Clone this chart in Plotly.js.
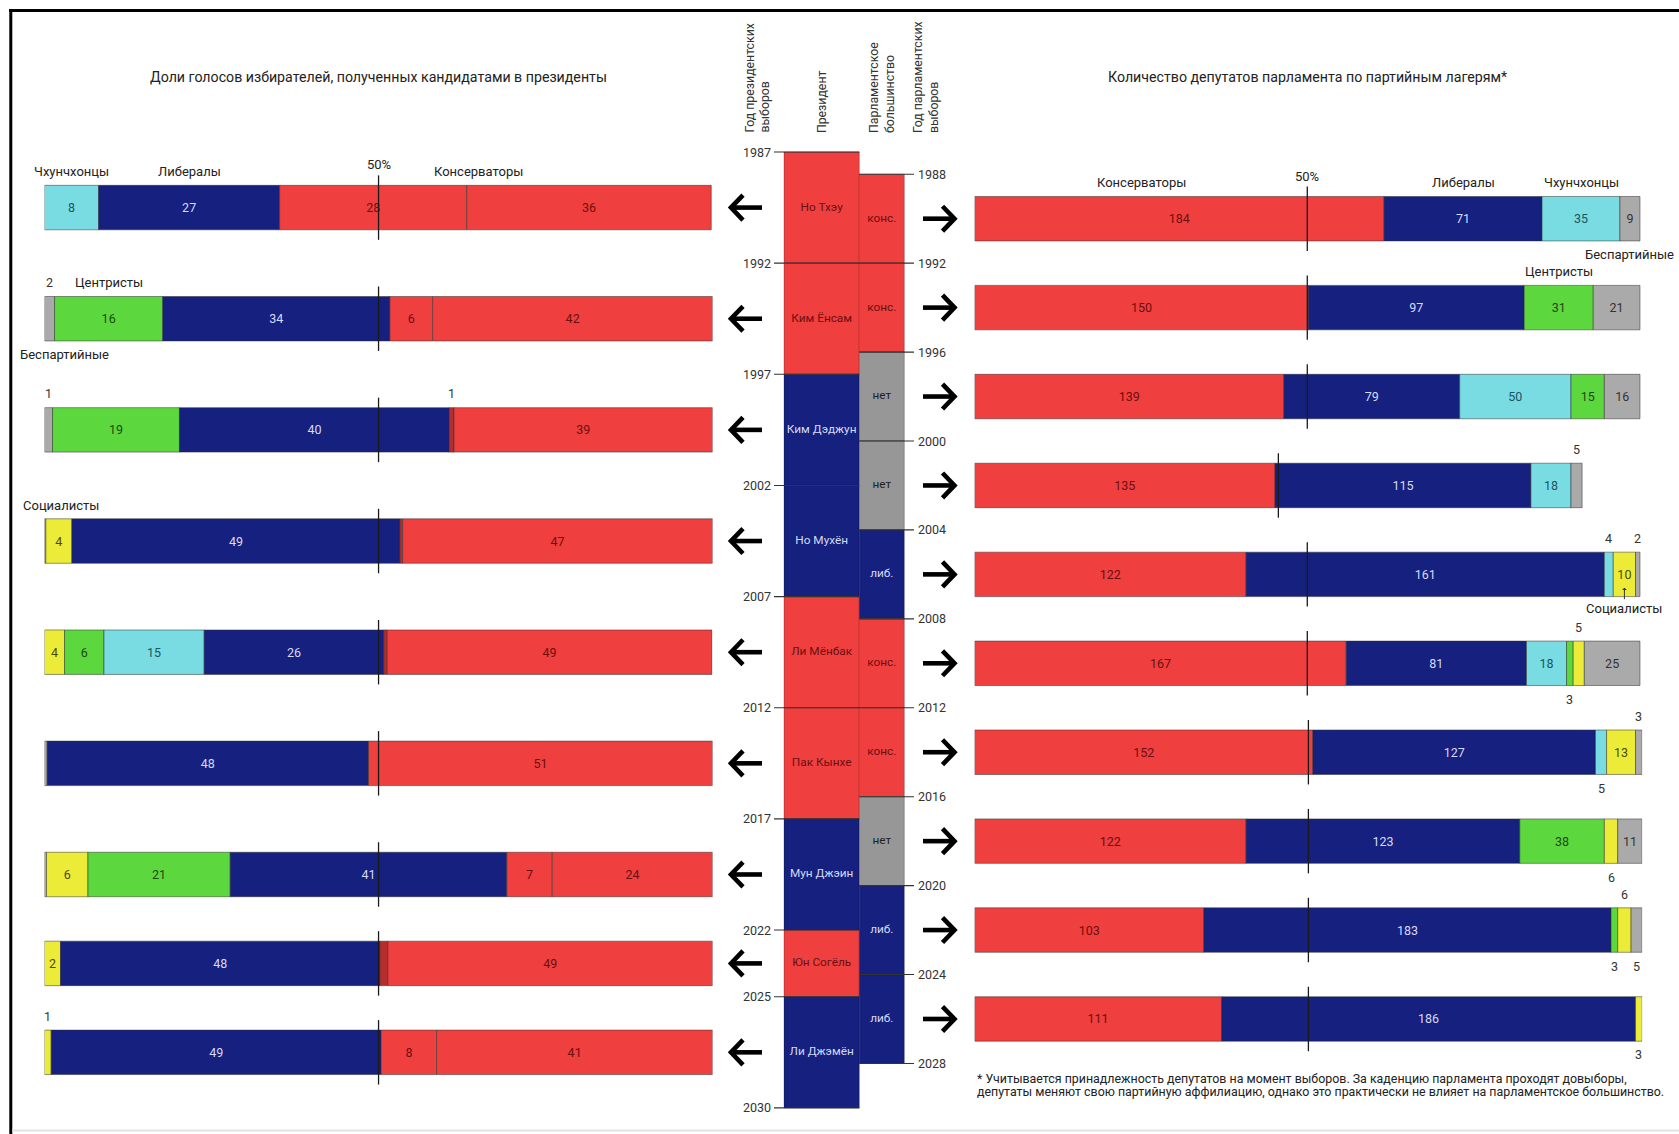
<!DOCTYPE html>
<html>
<head>
<meta charset="utf-8">
<script src="https://cdn.plot.ly/plotly-3.0.1.min.js"></script>
<style>
html,body{margin:0;padding:0;background:#fff;}
#chart{width:1679px;height:1134px;}
</style>
</head>
<body>
<div id="chart"></div>
<script>
// ---------------- DATA ----------------
// Presidential terms
const presStart = [1987, 1992, 1997, 2002, 2007, 2012, 2017, 2022, 2025];
const presEnd   = [1992, 1997, 2002, 2007, 2012, 2017, 2022, 2025, 2030];
const presNames = ['Но Тхэу','Ким Ёнсам','Ким Дэджун','Но Мухён','Ли Мёнбак','Пак Кынхе','Мун Джэин','Юн Согёль','Ли Джэмён'];
const presCamp  = ['cons','cons','lib','lib','cons','cons','lib','cons','lib'];

// Vote shares (%), drawn left -> right
const voteIndep  = [0,    1.5,  1.2,  0.2,  0,    0.4,  0.3,  0,    0];
const voteSocial = [0,    0,    0,    3.9,  3.0,  0,    6.2,  2.4,  1.0];
const voteCentr  = [0,    16.2, 19.0, 0,    5.9,  0,    21.3, 0,    0];
const voteChung  = [8.1,  0,    0,    0,    15.0, 0,    0,    0,    0];
const voteLib    = [27.1, 34.0, 40.4, 49.1, 26.9, 48.1, 41.4, 47.8, 49.4];
const voteCons2  = [28.0, 6.4,  0.7,  0.4,  0.5,  0,    6.8,  1.2,  8.3];
const voteCons1  = [36.6, 41.9, 38.7, 46.4, 48.6, 51.5, 24.0, 48.6, 41.3];

// Printed labels of the vote shares
const lblIndep  = ['',   '2',  '1',  '',   '',   '',   '',   '',   ''];
const lblSocial = ['',   '',   '',   '4',  '4',  '',   '6',  '2',  '1'];
const lblCentr  = ['',   '16', '19', '',   '6',  '',   '21', '',   ''];
const lblChung  = ['8',  '',   '',   '',   '15', '',   '',   '',   ''];
const lblLib    = ['27', '34', '40', '49', '26', '48', '41', '48', '49'];
const lblCons2  = ['28', '6',  '1',  '',   '',   '',   '7',  '',   '8'];
const lblCons1  = ['36', '42', '39', '47', '49', '51', '24', '49', '41'];
// labels printed outside the bar: [row, party, side]
const voteOutside = [[1,'indep','above'],[2,'indep','above'],[2,'cons2','above'],[8,'social','above']];

// Parliament terms
const parlStart = [1988, 1992, 1996, 2000, 2004, 2008, 2012, 2016, 2020, 2024];
const parlEnd   = [1992, 1996, 2000, 2004, 2008, 2012, 2016, 2020, 2024, 2028];
const parlMajority = ['конс.','конс.','нет','нет','либ.','конс.','конс.','нет','либ.','либ.'];
const parlCamp     = ['cons','cons','none','none','lib','cons','cons','none','lib','lib'];

// Seats, drawn left -> right
const seatCons   = [184, 150, 139, 135, 122, 167, 152, 122, 103, 111];
const seatLib    = [71,  97,  79,  115, 161, 81,  127, 123, 183, 186];
const seatChung  = [35,  0,   50,  18,  4,   18,  5,   0,   0,   0];
const seatCentr  = [0,   31,  15,  0,   0,   3,   0,   38,  3,   0];
const seatSocial = [0,   0,   0,   0,   10,  5,   13,  6,   6,   3];
const seatIndep  = [9,   21,  16,  5,   2,   25,  3,   11,  5,   0];
const seatOutside = [[3,'indep','above'],[4,'chung','above'],[4,'indep','above'],
  [5,'social','above'],[5,'centr','below'],[6,'indep','above'],[6,'chung','below'],
  [7,'social','below'],[8,'social','above'],[8,'centr','below'],[8,'indep','below'],[9,'social','below']];

const titleLeft  = 'Доли голосов избирателей, полученных кандидатами в президенты';
const titleRight = 'Количество депутатов парламента по партийным лагерям*';
const footnote1 = '* Учитывается принадлежность депутатов на момент выборов. За каденцию парламента проходят довыборы,';
const footnote2 = 'депутаты меняют свою партийную аффилиацию, однако это практически не влияет на парламентское большинство.';

// ---------------- STYLE / LAYOUT CONSTANTS ----------------
const W = 1679, H = 1134;
const FONT = 'Roboto, "Noto Sans", "DejaVu Sans", sans-serif';
const COLORS = {cons:'#F03F3F', lib:'#15207F', chung:'#78DCE2', centr:'#5CD73E', social:'#ECEC38', indep:'#AAAAAA', none:'#979797'};
const MINOR_CONS = '#B52E2D';
const INK = {cons:'#6B0F0F', lib:'#D5DAF5', chung:'#1A5560', centr:'#1D4A10', social:'#4A4A05', indep:'#333333', none:'#222222'};
const BAR_W = 2;             // bar thickness, in years
const LBL_OFF = 1.62;        // outside label offset from bar centre (years)
const Y_TOP = 1980.162, Y_BOT = 2031.174;
const LEFT_X0 = 44.5, LEFT_X1 = 712.6;
const RIGHT_X0 = 974.6, RIGHT_X1 = 1642.2, RIGHT_MAX = 300;
const PRES_X0 = 784, PRES_X1 = 859.3, PARL_X1 = 904.3;
const py = p => 1 - p / H;   // pixel row -> paper

const mid = (a, b) => a.map((s, i) => (s + b[i]) / 2);
const presMid = mid(presStart, presEnd);
const parlMid = mid(parlStart, parlEnd);

const traces = [];
const annotations = [];

function buildStack(parties, rows, xaxis, textSize) {
  const n = rows.length;
  const cum = new Array(n).fill(0);
  const centres = rows.map(() => ({}));
  parties.forEach(p => {
    const base = cum.slice();
    const xs = p.v.map(v => v > 0 ? v : null);
    p.v.forEach((v, i) => { centres[i][p.key] = cum[i] + v / 2; cum[i] += v; });
    const colorKey = p.colorKey || p.key;
    const colors = p.v.map(v => (p.minor && v < 2) ? MINOR_CONS : COLORS[colorKey]);
    traces.push({
      type: 'bar', orientation: 'h', xaxis: xaxis, yaxis: 'y',
      y: rows, x: xs, base: base, width: BAR_W,
      marker: {color: colors, line: {color: 'rgba(45,45,45,0.5)', width: 1}},
      text: p.text, textposition: 'inside', insidetextanchor: 'middle', textangle: 0,
      constraintext: 'none',
      textfont: {family: FONT, size: textSize, color: INK[colorKey]},
      hoverinfo: 'skip', showlegend: false
    });
  });
  return {centres, totals: cum};
}

// ---- left panel: vote shares
const leftOut = new Set(voteOutside.map(o => o[0] + ':' + o[1]));
const mkText = (key, lbl) => lbl.map((t, i) => leftOut.has(i + ':' + key) ? '' : t);
const leftParties = [
  {key:'indep',  v:voteIndep,  lbl:lblIndep},
  {key:'social', v:voteSocial, lbl:lblSocial},
  {key:'centr',  v:voteCentr,  lbl:lblCentr},
  {key:'chung',  v:voteChung,  lbl:lblChung},
  {key:'lib',    v:voteLib,    lbl:lblLib},
  {key:'cons2',  v:voteCons2,  lbl:lblCons2, colorKey:'cons', minor:true},
  {key:'cons1',  v:voteCons1,  lbl:lblCons1, colorKey:'cons'}
].map(p => Object.assign(p, {text: mkText(p.key, p.lbl)}));
const L = buildStack(leftParties, presMid, 'x', 12.5);
const lblMap = {indep:lblIndep, social:lblSocial, centr:lblCentr, chung:lblChung, lib:lblLib, cons2:lblCons2, cons1:lblCons1};
voteOutside.forEach(([r, k, side]) => {
  annotations.push({xref:'x', yref:'y', x: L.centres[r][k], yanchor:'middle',
    y: presMid[r] + (side === 'above' ? -LBL_OFF : LBL_OFF),
    text: lblMap[k][r], showarrow:false, font:{family:FONT, size:12.5, color:'#333'}});
});

// ---- right panel: seats
const rightOut = new Set(seatOutside.map(o => o[0] + ':' + o[1]));
const seatText = (key, arr) => arr.map((v, i) => (v > 0 && !rightOut.has(i + ':' + key)) ? String(v) : '');
const rightParties = [
  {key:'cons',   v:seatCons},
  {key:'lib',    v:seatLib},
  {key:'chung',  v:seatChung},
  {key:'centr',  v:seatCentr},
  {key:'social', v:seatSocial},
  {key:'indep',  v:seatIndep}
].map(p => Object.assign(p, {text: seatText(p.key, p.v)}));
const R = buildStack(rightParties, parlMid, 'x2', 12.5);
const seatMap = {cons:seatCons, lib:seatLib, chung:seatChung, centr:seatCentr, social:seatSocial, indep:seatIndep};
seatOutside.forEach(([r, k, side]) => {
  annotations.push({xref:'x2', yref:'y', x: R.centres[r][k], yanchor:'middle',
    y: parlMid[r] + (side === 'above' ? -LBL_OFF : LBL_OFF),
    text: String(seatMap[k][r]), showarrow:false, font:{family:FONT, size:12.5, color:'#333'}});
});

// ---- 50% lines
const l50x = [], l50y = [];
presMid.forEach(m => { l50x.push(50, 50, null); l50y.push(m - 1.45, m + 1.45, null); });
traces.push({type:'scatter', mode:'lines', xaxis:'x', yaxis:'y', x:l50x, y:l50y,
  line:{color:'#1a1a1a', width:1.3}, hoverinfo:'skip', showlegend:false});
const r50x = [], r50y = [];
parlMid.forEach((m, i) => { const h = R.totals[i] / 2; r50x.push(h, h, null); r50y.push(m - 1.45, m + 1.45, null); });
traces.push({type:'scatter', mode:'lines', xaxis:'x2', yaxis:'y', x:r50x, y:r50y,
  line:{color:'#1a1a1a', width:1.3}, hoverinfo:'skip', showlegend:false});

// ---- middle timeline blocks
traces.push({type:'bar', orientation:'v', xaxis:'x3', yaxis:'y',
  x: presStart.map(() => (PRES_X0 + PRES_X1) / 2), base: presStart,
  y: presStart.map((s, i) => presEnd[i] - s), width: PRES_X1 - PRES_X0,
  marker:{color: presCamp.map(c => COLORS[c]), line:{color:'rgba(0,0,0,0.25)', width:1}},
  hoverinfo:'skip', showlegend:false});
traces.push({type:'bar', orientation:'v', xaxis:'x3', yaxis:'y',
  x: parlStart.map(() => (PRES_X1 + PARL_X1) / 2), base: parlStart,
  y: parlStart.map((s, i) => parlEnd[i] - s), width: PARL_X1 - PRES_X1,
  marker:{color: parlCamp.map(c => COLORS[c]), line:{color:'rgba(0,0,0,0.25)', width:1}},
  hoverinfo:'skip', showlegend:false});
traces.push({type:'scatter', mode:'text', xaxis:'x3', yaxis:'y',
  x: presMid.map(() => (PRES_X0 + PRES_X1) / 2), y: presMid, text: presNames,
  textfont:{family:FONT, size:11.8, color: presCamp.map(c => INK[c])}, hoverinfo:'skip', showlegend:false});
traces.push({type:'scatter', mode:'text', xaxis:'x3', yaxis:'y',
  x: parlMid.map(() => (PRES_X1 + PARL_X1) / 2), y: parlMid, text: parlMajority,
  textfont:{family:FONT, size:11.8, color: parlCamp.map(c => INK[c])}, hoverinfo:'skip', showlegend:false});

// year ticks
const presTicks = Array.from(new Set(presStart.concat(presEnd)));
const parlTicks = Array.from(new Set(parlStart.concat(parlEnd)));
const tkx = [], tky = [];
presTicks.forEach(t => { tkx.push(774, PRES_X1, null); tky.push(t, t, null); });
parlTicks.forEach(t => { tkx.push(PRES_X1, 914, null); tky.push(t, t, null); });
traces.push({type:'scatter', mode:'lines', xaxis:'x3', yaxis:'y', x:tkx, y:tky,
  line:{color:'#333', width:1.1}, hoverinfo:'skip', showlegend:false});
presTicks.forEach(t => annotations.push({xref:'x3', yref:'y', x:772.5, y:t, xanchor:'right', yanchor:'middle',
  text:String(t), showarrow:false, font:{family:FONT, size:12.5, color:'#333'}}));
parlTicks.forEach(t => annotations.push({xref:'x3', yref:'y', x:915.5, y:t, xanchor:'left', yanchor:'middle',
  text:String(t), showarrow:false, font:{family:FONT, size:12.5, color:'#333'}}));

// arrows
const arx = [], ary = [];
const AH = 0.56;
presMid.forEach(m => { arx.push(762, 731, null, 743, 731, 743, null); ary.push(m, m, null, m - AH, m, m + AH, null); });
parlMid.forEach(m => { arx.push(923, 954.5, null, 942.5, 954.5, 942.5, null); ary.push(m, m, null, m - AH, m, m + AH, null); });
traces.push({type:'scatter', mode:'lines', xaxis:'x3', yaxis:'y', x:arx, y:ary,
  line:{color:'#000', width:4.6}, hoverinfo:'skip', showlegend:false});

// ---- text annotations
const txt = (o) => Object.assign({showarrow:false, yanchor:'middle', font:{family:FONT, size:13, color:'#222'}}, o);
annotations.push(txt({xref:'x3', yref:'paper', x:378.4, y:py(76.7), text:titleLeft, font:{family:FONT, size:14.2, color:'#222'}}));
annotations.push(txt({xref:'x3', yref:'paper', x:1307.6, y:py(76.7), text:titleRight, font:{family:FONT, size:14.2, color:'#222'}}));

// left party names
const up0 = presMid[0] - LBL_OFF;
annotations.push(txt({xref:'x', yref:'y', x:L.centres[0].chung, y:up0, text:'Чхунчхонцы'}));
annotations.push(txt({xref:'x', yref:'y', x:L.centres[0].lib, y:up0, text:'Либералы'}));
annotations.push(txt({xref:'x', yref:'y', x:65, y:up0, text:'Консерваторы'}));
annotations.push(txt({xref:'x', yref:'y', x:50, y:presMid[0] - 1.95, text:'50%'}));
annotations.push(txt({xref:'x', yref:'y', x:L.centres[1].centr, y:presMid[1] - LBL_OFF, text:'Центристы'}));
annotations.push(txt({xref:'x3', yref:'y', x:18, xanchor:'left', y:presMid[1] + LBL_OFF, text:'Беспартийные'}));
annotations.push(txt({xref:'x3', yref:'y', x:21, xanchor:'left', y:presMid[3] - LBL_OFF, text:'Социалисты'}));

// right party names
const rp0 = parlMid[0] - LBL_OFF;
annotations.push(txt({xref:'x2', yref:'y', x:75, y:rp0, text:'Консерваторы'}));
annotations.push(txt({xref:'x2', yref:'y', x:R.centres[0].lib, y:rp0, text:'Либералы'}));
annotations.push(txt({xref:'x2', yref:'y', x:R.centres[0].chung, y:rp0, text:'Чхунчхонцы'}));
annotations.push(txt({xref:'x2', yref:'y', x:R.totals[0] / 2, y:parlMid[0] - 1.9, text:'50%'}));
annotations.push(txt({xref:'x2', yref:'y', x:R.centres[0].indep, y:parlMid[0] + LBL_OFF, text:'Беспартийные'}));
annotations.push(txt({xref:'x2', yref:'y', x:R.centres[1].centr, y:parlMid[1] - LBL_OFF, text:'Центристы'}));
annotations.push({xref:'x2', yref:'y', x:R.centres[4].social, y:parlMid[4] + 0.6,
  axref:'x2', ayref:'y', ax:R.centres[4].social, ay:parlMid[4] + 1.52,
  text:'Социалисты', showarrow:true, arrowhead:1, arrowsize:0.8, arrowwidth:1, arrowcolor:'#333', standoff:0,
  font:{family:FONT, size:13, color:'#222'}});

// column headers (rotated)
const hdr = (x, t) => ({xref:'x3', yref:'paper', x:x, y:py(135), yanchor:'bottom', textangle:-90, align:'left',
  text:t, showarrow:false, font:{family:FONT, size:12.3, color:'#333'}});
annotations.push(hdr(757, 'Год президентских<br>выборов'));
annotations.push(hdr(821.6, 'Президент'));
annotations.push(hdr(881.5, 'Парламентское<br>большинство'));
annotations.push(hdr(926, 'Год парламентских<br>выборов'));

// footnote
annotations.push(txt({xref:'x3', yref:'paper', x:975, xanchor:'left', y:py(1078), text:footnote1, font:{family:FONT, size:12.4, color:'#222'}}));
annotations.push(txt({xref:'x3', yref:'paper', x:975, xanchor:'left', y:py(1091), text:footnote2, font:{family:FONT, size:12.4, color:'#222'}}));

const ax = (dom, rng) => ({domain: dom, range: rng, visible:false, fixedrange:true});
const layout = {
  width: W, height: H,
  margin: {l:0, r:0, t:0, b:0, pad:0},
  paper_bgcolor:'#fff', plot_bgcolor:'rgba(0,0,0,0)',
  barmode:'overlay', showlegend:false,
  font:{family:FONT},
  xaxis: ax([LEFT_X0 / W, LEFT_X1 / W], [0, 100]),
  xaxis2: ax([RIGHT_X0 / W, RIGHT_X1 / W], [0, RIGHT_MAX]),
  xaxis3: ax([0, 1], [0, W]),
  yaxis: ax([0, 1], [Y_BOT, Y_TOP]),
  annotations: annotations,
  shapes: [
    {type:'line', xref:'paper', yref:'paper', x0:9/W, x1:1, y0:py(10.5), y1:py(10.5), line:{color:'#000', width:3}},
    {type:'line', xref:'paper', yref:'paper', x0:10.8/W, x1:10.8/W, y0:py(9), y1:0, line:{color:'#000', width:3}},
    {type:'line', xref:'paper', yref:'paper', x0:12/W, x1:1, y0:py(1130.5), y1:py(1130.5), line:{color:'#e2e2e2', width:2}}
  ]
};
Plotly.newPlot('chart', traces, layout, {staticPlot:true, displayModeBar:false});
</script>
</body>
</html>
